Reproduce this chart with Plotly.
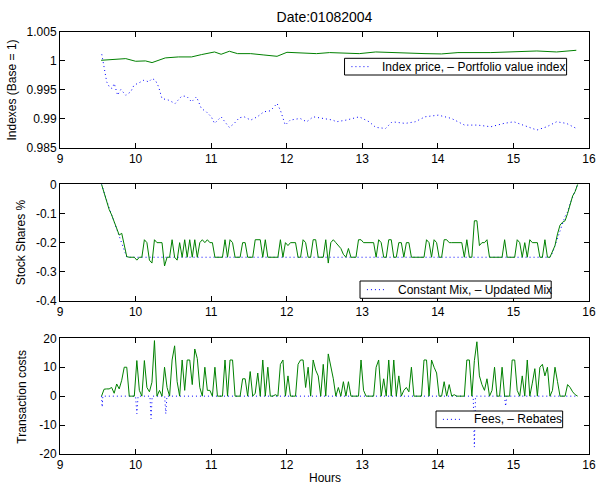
import plotly.graph_objects as go

# ---------------- data ----------------
# Panel 1: index price (dotted) and portfolio value index (solid), hours vs value
index_price_hours = [9.553, 9.579, 9.596, 9.618, 9.653, 9.688, 9.718, 9.762, 9.805, 9.870,
                     9.936, 9.979, 10.044, 10.110, 10.175, 10.218, 10.262, 10.305, 10.349, 10.436,
                     10.523, 10.610, 10.675, 10.741, 10.806, 10.871, 10.936, 11.002, 11.045, 11.132,
                     11.198, 11.241, 11.306, 11.372, 11.437, 11.524, 11.611, 11.698, 11.785, 11.872,
                     11.916, 11.981, 12.046, 12.177, 12.264, 12.351, 12.481, 12.612, 12.656, 12.786,
                     12.960, 13.091, 13.178, 13.308, 13.395, 13.569, 13.700, 13.830, 14.005, 14.179,
                     14.353, 14.527, 14.701, 14.875, 15.005, 15.136, 15.310, 15.441, 15.571, 15.702,
                     15.832]
index_price = [1.00115, 0.99897, 0.99753, 0.99638, 0.99552, 0.99523, 0.99609, 0.99408, 0.99506, 0.99408,
               0.99466, 0.99580, 0.99621, 0.99667, 0.99638, 0.99695, 0.99667, 0.99552, 0.99351, 0.99322,
               0.99264, 0.99391, 0.99391, 0.99293, 0.99379, 0.99178, 0.99121, 0.99034, 0.98920, 0.99034,
               0.98920, 0.98851, 0.98920, 0.99017, 0.99034, 0.98977, 0.99034, 0.99121, 0.99138, 0.99264,
               0.99149, 0.98891, 0.98977, 0.99006, 0.98948, 0.99034, 0.99006, 0.98977, 0.98948, 0.98977,
               0.99034, 0.98948, 0.98851, 0.98833, 0.98948, 0.98920, 0.98948, 0.99034, 0.99063, 0.99006,
               0.98891, 0.98891, 0.98862, 0.98920, 0.98948, 0.98891, 0.98805, 0.98862, 0.98948, 0.98920,
               0.98833]

portfolio_hours = [9.544, 9.696, 9.870, 10.001, 10.131, 10.218, 10.393, 10.567, 10.741, 10.871,
                   11.045, 11.132, 11.241, 11.350, 11.524, 11.698, 11.872, 12.003, 12.220, 12.394,
                   12.568, 12.960, 13.178, 13.482, 13.830, 14.048, 14.266, 14.701, 15.049, 15.310,
                   15.571, 15.832]
portfolio_index = [1.00011, 1.00023, 1.00040, 0.99994, 1.00000, 0.99971, 1.00052, 1.00069, 1.00069, 1.00109,
                   1.00155, 1.00115, 1.00167, 1.00126, 1.00126, 1.00103, 1.00080, 1.00149, 1.00132, 1.00126,
                   1.00144, 1.00126, 1.00155, 1.00138, 1.00126, 1.00121, 1.00144, 1.00144, 1.00155, 1.00172,
                   1.00155, 1.00184]

# Regular sampling of the intraday series (every 2 minutes from 9.55 h)
sample_start_hour = 9.55
sample_step_minutes = 2

# Panel 2: stock shares
const_mix_hours = [9.55, 9.583, 9.617, 9.65, 9.683, 9.717, 9.75, 9.783, 9.817, 9.85, 9.883,
                   15.483, 15.517, 15.55, 15.583, 15.617, 15.65, 15.683, 15.717, 15.75, 15.783,
                   15.817, 15.85]
const_mix = [0, -0.03, -0.055, -0.08, -0.105, -0.13, -0.155, -0.18, -0.2, -0.225, -0.25,
             -0.25, -0.235, -0.21, -0.185, -0.16, -0.14, -0.11, -0.095, -0.065, -0.045,
             -0.02, 0]

updated_mix = [
    0, -0.029, -0.057, -0.086, -0.105, -0.128, -0.151, -0.174, -0.168, -0.214,
    -0.248, -0.25, -0.25, -0.25, -0.26, -0.25, -0.25, -0.19, -0.2, -0.26,
    -0.27, -0.19, -0.2, -0.2, -0.2, -0.28, -0.25, -0.25, -0.19, -0.25,
    -0.26, -0.2, -0.25, -0.19, -0.25, -0.19, -0.25, -0.19, -0.25, -0.2,
    -0.19, -0.2, -0.19, -0.2, -0.2, -0.25, -0.25, -0.25, -0.25, -0.19,
    -0.25, -0.19, -0.2, -0.25, -0.25, -0.25, -0.2, -0.2, -0.25, -0.25,
    -0.25, -0.19, -0.19, -0.19, -0.25, -0.19, -0.25, -0.25, -0.25, -0.25,
    -0.25, -0.19, -0.25, -0.2, -0.21, -0.2, -0.2, -0.2, -0.25, -0.25,
    -0.19, -0.2, -0.25, -0.25, -0.19, -0.19, -0.25, -0.25, -0.25, -0.19,
    -0.27, -0.2, -0.19, -0.2, -0.21, -0.22, -0.24, -0.25, -0.22, -0.25,
    -0.25, -0.25, -0.19, -0.19, -0.2, -0.2, -0.2, -0.2, -0.2, -0.25,
    -0.19, -0.2, -0.25, -0.25, -0.19, -0.19, -0.25, -0.25, -0.2, -0.2,
    -0.25, -0.2, -0.2, -0.25, -0.25, -0.25, -0.25, -0.25, -0.25, -0.19,
    -0.2, -0.25, -0.19, -0.2, -0.25, -0.25, -0.19, -0.19, -0.2, -0.2,
    -0.2, -0.2, -0.2, -0.2, -0.25, -0.19, -0.25, -0.25, -0.125, -0.125,
    -0.21, -0.2, -0.2, -0.19, -0.25, -0.25, -0.25, -0.25, -0.25, -0.25,
    -0.19, -0.25, -0.25, -0.25, -0.25, -0.19, -0.2, -0.25, -0.2, -0.25,
    -0.19, -0.2, -0.2, -0.2, -0.25, -0.25, -0.19, -0.25, -0.25, -0.23,
    -0.21, -0.17, -0.14, -0.13, -0.125, -0.1, -0.065, -0.04, -0.025, 0,
]

# Panel 3: transaction costs
fees_hours = [9.55, 9.558, 9.567, 10.0, 10.017, 10.033, 10.19, 10.205, 10.22,
              10.385, 10.40, 10.415, 14.468, 14.483, 14.498, 14.882, 14.897, 14.912, 15.85]
fees = [0, -3.8, 0, 0, -6.1, 0, 0, -7.8, 0,
        0, -6.1, 0, 0, -17.6, 0, 0, -3.5, 0, 0]

rebates = [
    0, 2.4, 2.5, 2.5, 3, 1, 4.2, 2.5, 5.5, 10,
    10, 0, 0, 0, 12.3, 2, 0, 12.3, 3, 1.5,
    4.8, 19.2, 0, 2, 0, 10, 3, 0, 12.5, 17.4,
    5, 0, 12.5, 2, 12.5, 12.5, 4, 16.3, 13, 3,
    0, 10, 2, 2, 0, 10, 0, 0, 0, 12.5,
    0, 12.5, 12.5, 0, 0, 0, 6, 6, 0, 8.5,
    0, 1, 8, 0, 12.5, 0, 10, 0, 0, 0.5,
    0, 11, 12.5, 0, 7, 0, 0, 0, 11, 12.5,
    12.5, 3, 10, 0, 12.5, 9, 7, 0, 11, 0,
    14.6, 10, 6, 0, 3, 0, 5, 0, 5, 0,
    0, 0, 0, 12.5, 2, 0, 0, 0, 0, 10,
    12.5, 0, 6, 0, 12.5, 0, 12.5, 0, 7, 0,
    2, 3, 1.5, 10, 0, 0, 0, 0, 12.5, 12.5,
    0, 12.5, 10, 8, 0, 0, 5, 0, 4, 0,
    0.5, 0, 0, 0, 0, 12.5, 12.5, 0, 12.3, 18.8,
    7, 4, 2, 6, 0, 2, 10, 0, 0, 10,
    0, 0, 0, 12.5, 12.5, 2, 0, 7, 0, 12.5,
    0, 4.5, 9.5, 0, 10, 11, 7, 10, 0, 2,
    10, 5, 0, 0, 0, 4, 3, 1.5, 0.5, 0,
]

# Axis ticks and texts
x_ticks = [9, 10, 11, 12, 13, 14, 15, 16]
y1_ticks = [0.985, 0.99, 0.995, 1, 1.005]
y1_labels = ["0.985", "0.99", "0.995", "1", "1.005"]
y2_ticks = [-0.4, -0.3, -0.2, -0.1, 0]
y2_labels = ["-0.4", "-0.3", "-0.2", "-0.1", "0"]
y3_ticks = [-20, -10, 0, 10, 20]
y3_labels = ["-20", "-10", "0", "10", "20"]
panel_titles = ["Indexes (Base = 1)", "Stock Shares %", "Transaction costs"]
legend_texts = ["Index price, \u2013 Portfolio value index",
                "Constant Mix, \u2013 Updated Mix",
                "Fees, \u2013 Rebates"]

# ---------------- figure ----------------
grid_hours = [sample_start_hour + k * sample_step_minutes / 60 for k in range(len(updated_mix))]

W, H = 602, 485
ML, MR, MT, MB = 60, 6, 32, 31
PW, PH = W - ML - MR, H - MT - MB

def px(xp):  # page pixel -> paper x
    return (xp - ML) / PW

def py(yp):  # page pixel -> paper y
    return (H - MB - yp) / PH

BLUE = "#0000ff"
GREEN = "#008000"
DOT = "1px,3px"
FONT = "Liberation Sans, Arial, Helvetica, sans-serif"

fig = go.Figure()

fig.add_trace(go.Scatter(x=index_price_hours, y=index_price, mode="lines",
                         line=dict(color=BLUE, width=1, dash=DOT), name="Index price",
                         xaxis="x", yaxis="y", showlegend=False))
fig.add_trace(go.Scatter(x=portfolio_hours, y=portfolio_index, mode="lines",
                         line=dict(color=GREEN, width=1), name="Portfolio value index",
                         showlegend=False, xaxis="x", yaxis="y"))

fig.add_trace(go.Scatter(x=const_mix_hours, y=const_mix, mode="lines",
                         line=dict(color=BLUE, width=1, dash=DOT), name="Constant Mix",
                         xaxis="x2", yaxis="y2", showlegend=False))
fig.add_trace(go.Scatter(x=grid_hours, y=updated_mix, mode="lines",
                         line=dict(color=GREEN, width=1), name="Updated Mix",
                         showlegend=False, xaxis="x2", yaxis="y2"))

fig.add_trace(go.Scatter(x=fees_hours, y=fees, mode="lines",
                         line=dict(color=BLUE, width=1, dash=DOT), name="Fees",
                         xaxis="x3", yaxis="y3", showlegend=False))
fig.add_trace(go.Scatter(x=grid_hours, y=rebates, mode="lines",
                         line=dict(color=GREEN, width=1), name="Rebates",
                         showlegend=False, xaxis="x3", yaxis="y3"))

axis_common = dict(showline=True, linecolor="black", linewidth=1, mirror="allticks",
                   ticks="inside", ticklen=5, tickcolor="black", showgrid=False,
                   zeroline=False, tickfont=dict(size=12, color="black"),
                   ticklabeloverflow="allow")

def xax(anchor):
    return dict(axis_common, domain=[0, 1], anchor=anchor, range=[9, 16],
                tickvals=x_ticks, ticktext=[str(t) for t in x_ticks])

def yax(anchor, dom, rng, tv, tt):
    return dict(axis_common, domain=dom, anchor=anchor, range=rng, tickvals=tv, ticktext=tt)

# panel boxes in page pixels (top, bottom)
panels = [(32, 147.7), (184.3, 301), (338.3, 454)]
doms = [[py(b), py(t)] for (t, b) in panels]
doms[2][0] = 0.0
doms[0][1] = 1.0

annotations = []
# y-axis titles
title_x = [11, 20, 22]
for (t, b), tx, txt in zip(panels, title_x, panel_titles):
    annotations.append(dict(text=txt, xref="paper", yref="paper", x=px(tx), y=py((t + b) / 2),
                            xanchor="center", yanchor="middle", textangle=-90, showarrow=False,
                            font=dict(size=12, color="black")))
# x-axis title
annotations.append(dict(text="Hours", xref="paper", yref="paper", x=0.5, y=py(478),
                        xanchor="center", yanchor="middle", showarrow=False,
                        font=dict(size=12, color="black")))

# legend boxes (page pixels): left, top, right, bottom
legend_boxes = [(348.3, 58.3, 573.3, 75.0), (364.0, 281.0, 557.7, 298.3), (441.0, 411.0, 569.3, 427.7)]
shapes = []
for (l, t, r, b), txt in zip(legend_boxes, legend_texts):
    shapes.append(dict(type="rect", xref="paper", yref="paper", x0=px(l), x1=px(r), y0=py(b), y1=py(t),
                       line=dict(color="black", width=1), fillcolor="white", layer="above"))
    ym = (t + b) / 2
    shapes.append(dict(type="line", xref="paper", yref="paper", x0=px(l + 7), x1=px(l + 25),
                       y0=py(ym), y1=py(ym), line=dict(color=BLUE, width=1, dash=DOT), layer="above"))
    annotations.append(dict(text=txt, xref="paper", yref="paper", x=px(l + 36), y=py(ym),
                            xanchor="left", yanchor="middle", showarrow=False,
                            font=dict(size=12, color="black")))

fig.update_layout(
    width=W, height=H,
    margin=dict(l=ML, r=MR, t=MT, b=MB),
    paper_bgcolor="white", plot_bgcolor="white",
    font=dict(family=FONT, color="black"),
    title=dict(text="Date:01082004", x=0.5, xref="paper", y=1 - 17 / H, yref="container",
               yanchor="middle", xanchor="center", font=dict(size=14, color="black")),
    xaxis=xax("y"), xaxis2=xax("y2"), xaxis3=xax("y3"),
    yaxis=yax("x", doms[0], [0.985, 1.005], y1_ticks, y1_labels),
    yaxis2=yax("x2", doms[1], [-0.4, 0], y2_ticks, y2_labels),
    yaxis3=yax("x3", doms[2], [-20, 20], y3_ticks, y3_labels),
    shapes=shapes, annotations=annotations, showlegend=False,
)

fig.write_html("out.html", config={"displayModeBar": False},
               post_script="document.body.style.margin='0px';")
